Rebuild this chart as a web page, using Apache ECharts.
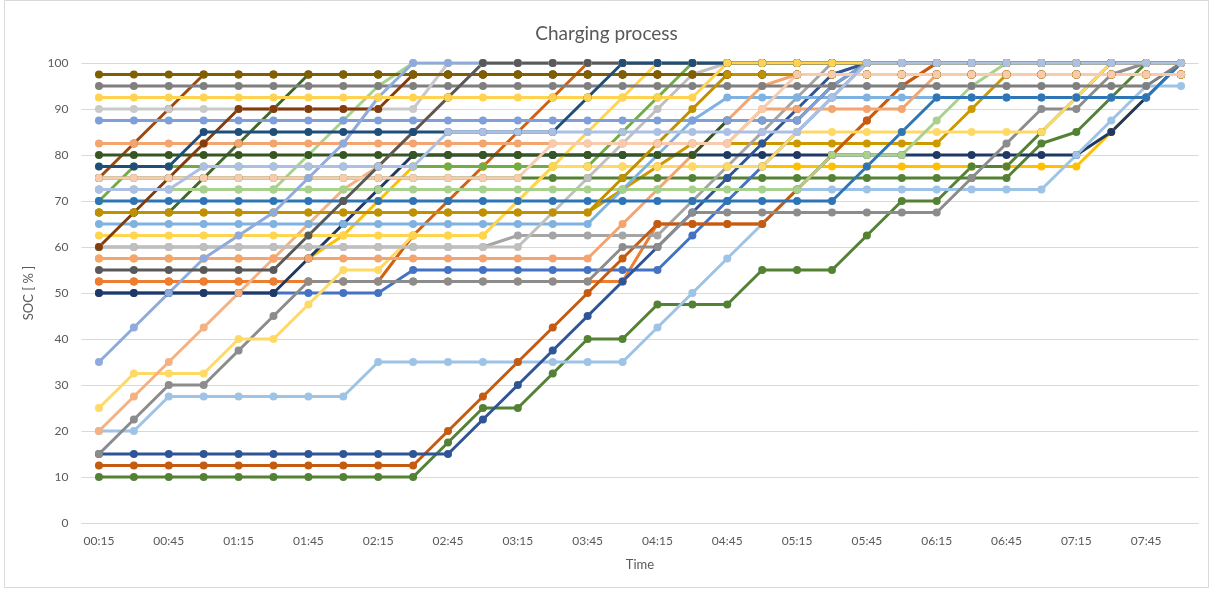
<!DOCTYPE html>
<html>
<head>
<meta charset="utf-8">
<script src="https://cdn.jsdelivr.net/npm/echarts/dist/echarts.min.js"></script>
<style>
html, body { margin: 0; padding: 0; background: #ffffff; }
#chart { width: 1213px; height: 590px; }
</style>
</head>
<body>
<div id="chart"></div>
<script>
// Quarter-hour time slots on the category axis
const timeLabels = [
  '00:15','00:30','00:45','01:00','01:15','01:30','01:45','02:00',
  '02:15','02:30','02:45','03:00','03:15','03:30','03:45','04:00',
  '04:15','04:30','04:45','05:00','05:15','05:30','05:45','06:00',
  '06:15','06:30','06:45','07:00','07:15','07:30','07:45','08:00'
];

// State of charge [%] of each vehicle per time slot
const soc01 = [52.5,52.5,52.5,52.5,52.5,52.5,52.5,52.5, 52.5,62.5,70,77.5,85,92.5,100,100, 100,100,100,100,100,100,100,100, 100,100,100,100,100,100,100,100];
const soc02 = [52.5,52.5,52.5,52.5,52.5,52.5,52.5,52.5, 52.5,52.5,52.5,52.5,52.5,52.5,52.5,52.5, 65,65,65,65,72.5,80,87.5,95, 100,100,100,100,100,100,100,100];
const soc03 = [75,82.5,90,97.5,97.5,97.5,97.5,97.5, 97.5,97.5,97.5,97.5,97.5,97.5,97.5,97.5, 97.5,97.5,97.5,97.5,97.5,97.5,97.5,97.5, 97.5,97.5,97.5,97.5,97.5,97.5,97.5,97.5];
const soc04 = [67.5,67.5,67.5,75,82.5,90,97.5,97.5, 97.5,97.5,97.5,97.5,97.5,97.5,97.5,97.5, 97.5,97.5,97.5,97.5,97.5,97.5,97.5,97.5, 97.5,97.5,97.5,97.5,97.5,97.5,97.5,97.5];
const soc05 = [57.5,57.5,57.5,57.5,57.5,57.5,57.5,62.5, 70,77.5,77.5,77.5,77.5,77.5,77.5,77.5, 77.5,77.5,77.5,77.5,77.5,77.5,77.5,77.5, 77.5,77.5,77.5,77.5,77.5,85,92.5,100];
const soc06 = [70,77.5,77.5,77.5,77.5,77.5,77.5,77.5, 77.5,77.5,77.5,77.5,77.5,77.5,77.5,85, 92.5,100,100,100,100,100,100,100, 100,100,100,100,100,100,100,100];
const soc07 = [72.5,72.5,72.5,72.5,72.5,72.5,80,87.5, 95,100,100,100,100,100,100,100, 100,100,100,100,100,100,100,100, 100,100,100,100,100,100,100,100];
const soc08 = [67.5,67.5,67.5,67.5,67.5,67.5,67.5,67.5, 67.5,67.5,67.5,67.5,67.5,67.5,67.5,72.5, 77.5,82.5,82.5,82.5,82.5,82.5,82.5,82.5, 82.5,90,97.5,97.5,97.5,97.5,97.5,97.5];
const soc09 = [75,75,75,75,75,75,75,75, 75,75,75,75,75,75,75,75, 75,75,75,75,75,75,75,75, 75,75,75,82.5,85,92.5,100,100];
const soc10 = [60,60,60,60,60,60,60,60, 60,60,60,60,62.5,62.5,62.5,62.5, 62.5,70,77.5,85,92.5,100,100,100, 100,100,100,100,100,100,100,100];
const soc11 = [50,50,50,50,50,50,50,50, 50,55,55,55,55,55,55,55, 55,62.5,70,77.5,85,92.5,100,100, 100,100,100,100,100,100,100,100];
const soc12 = [50,50,50,50,50,50,57.5,65, 72.5,80,80,80,80,80,80,80, 80,80,80,80,80,80,80,80, 80,80,80,80,80,85,92.5,100];
const soc13 = [10,10,10,10,10,10,10,10, 10,10,17.5,25,25,32.5,40,40, 47.5,47.5,47.5,55,55,55,62.5,70, 70,77.5,77.5,85,92.5,100,100,100];
const soc14 = [20,20,27.5,27.5,27.5,27.5,27.5,27.5, 35,35,35,35,35,35,35,35, 42.5,50,57.5,65,72.5,72.5,72.5,72.5, 72.5,72.5,72.5,72.5,80,87.5,95,95];
const soc15 = [12.5,12.5,12.5,12.5,12.5,12.5,12.5,12.5, 12.5,12.5,20,27.5,35,42.5,50,57.5, 65,65,65,65,72.5,80,87.5,95, 100,100,100,100,100,100,100,100];
const soc16 = [15,15,15,15,15,15,15,15, 15,15,15,22.5,30,37.5,45,52.5, 60,67.5,75,82.5,90,97.5,100,100, 100,100,100,100,100,100,100,100];
const soc17 = [15,22.5,30,30,37.5,45,52.5,52.5, 52.5,52.5,52.5,52.5,52.5,52.5,52.5,60, 60,67.5,67.5,67.5,67.5,67.5,67.5,67.5, 67.5,75,82.5,90,90,97.5,100,100];
const soc18 = [25,32.5,32.5,32.5,40,40,47.5,55, 55,62.5,62.5,62.5,70,77.5,77.5,77.5, 77.5,77.5,77.5,77.5,85,85,85,85, 85,85,85,85,92.5,100,100,100];
const soc19 = [20,27.5,35,42.5,50,57.5,65,72.5, 77.5,85,92.5,100,100,100,100,100, 100,100,100,100,100,100,100,100, 100,100,100,100,100,100,100,100];
const soc20 = [65,65,65,65,65,65,65,65, 65,65,65,65,65,65,65,72.5, 80,87.5,92.5,92.5,92.5,92.5,92.5,92.5, 92.5,92.5,92.5,92.5,92.5,92.5,92.5,100];
const soc21 = [62.5,62.5,62.5,62.5,62.5,62.5,62.5,62.5, 62.5,62.5,62.5,62.5,70,77.5,85,92.5, 100,100,100,100,100,100,100,100, 100,100,100,100,100,100,100,100];
const soc22 = [60,60,60,60,60,60,60,60, 60,60,60,60,60,67.5,75,82.5, 90,97.5,100,100,100,100,100,100, 100,100,100,100,100,100,100,100];
const soc23 = [57.5,57.5,57.5,57.5,57.5,57.5,57.5,57.5, 57.5,57.5,57.5,57.5,57.5,57.5,57.5,65, 72.5,80,87.5,95,97.5,97.5,97.5,97.5, 97.5,97.5,97.5,97.5,97.5,97.5,97.5,97.5];
const soc24 = [72.5,72.5,72.5,72.5,72.5,72.5,72.5,72.5, 72.5,72.5,72.5,72.5,72.5,72.5,72.5,72.5, 72.5,72.5,72.5,72.5,72.5,80,80,80, 87.5,95,100,100,100,100,100,100];
const soc25 = [70,70,70,70,70,70,70,70, 70,70,70,70,70,70,70,70, 70,70,70,70,70,70,77.5,85, 92.5,92.5,92.5,92.5,92.5,92.5,92.5,100];
const soc26 = [82.5,82.5,82.5,82.5,82.5,82.5,82.5,82.5, 82.5,82.5,82.5,82.5,82.5,82.5,82.5,82.5, 82.5,82.5,82.5,90,90,90,90,90, 97.5,97.5,97.5,97.5,97.5,97.5,97.5,97.5];
const soc27 = [80,80,80,80,80,80,80,80, 80,80,80,80,80,80,80,80, 80,80,87.5,87.5,87.5,95,100,100, 100,100,100,100,100,100,100,100];
const soc28 = [87.5,87.5,87.5,87.5,87.5,87.5,87.5,87.5, 87.5,87.5,87.5,87.5,87.5,87.5,87.5,87.5, 87.5,87.5,87.5,87.5,87.5,95,100,100, 100,100,100,100,100,100,100,100];
const soc29 = [95,95,95,95,95,95,95,95, 95,95,95,95,95,95,95,95, 95,95,95,95,95,95,95,95, 95,95,95,95,95,95,95,100];
const soc30 = [90,90,90,90,90,90,90,90, 90,90,100,100,100,100,100,100, 100,100,100,100,100,100,100,100, 100,100,100,100,100,100,100,100];
const soc31 = [60,67.5,75,82.5,90,90,90,90, 90,97.5,97.5,97.5,97.5,97.5,97.5,97.5, 97.5,97.5,97.5,97.5,97.5,97.5,97.5,97.5, 97.5,97.5,97.5,97.5,97.5,97.5,97.5,97.5];
const soc32 = [97.5,97.5,97.5,97.5,97.5,97.5,97.5,97.5, 97.5,97.5,97.5,97.5,97.5,97.5,97.5,97.5, 97.5,97.5,97.5,97.5,97.5,97.5,97.5,97.5, 97.5,97.5,97.5,97.5,97.5,97.5,97.5,97.5];
const soc33 = [67.5,67.5,67.5,67.5,67.5,67.5,67.5,67.5, 67.5,67.5,67.5,67.5,67.5,67.5,67.5,75, 82.5,90,97.5,97.5,97.5,97.5,97.5,97.5, 97.5,97.5,97.5,97.5,97.5,97.5,97.5,97.5];
const soc34 = [75,75,75,75,75,75,75,75, 75,75,75,75,75,82.5,82.5,82.5, 82.5,82.5,82.5,90,97.5,97.5,97.5,97.5, 97.5,97.5,97.5,97.5,97.5,97.5,97.5,97.5];
const soc35 = [35,42.5,50,57.5,62.5,67.5,75,82.5, 92.5,100,100,100,100,100,100,100, 100,100,100,100,100,100,100,100, 100,100,100,100,100,100,100,100];
const soc36 = [55,55,55,55,55,55,62.5,70, 77.5,85,92.5,100,100,100,100,100, 100,100,100,100,100,100,100,100, 100,100,100,100,100,100,100,100];
const soc37 = [77.5,77.5,77.5,85,85,85,85,85, 85,85,85,85,85,85,92.5,100, 100,100,100,100,100,100,100,100, 100,100,100,100,100,100,100,100];
const soc38 = [92.5,92.5,92.5,92.5,92.5,92.5,92.5,92.5, 92.5,92.5,92.5,92.5,92.5,92.5,92.5,92.5, 92.5,92.5,100,100,100,100,100,100, 100,100,100,100,100,100,100,100];
const soc39 = [72.5,72.5,72.5,77.5,77.5,77.5,77.5,77.5, 77.5,77.5,85,85,85,85,85,85, 85,85,85,85,85,92.5,100,100, 100,100,100,100,100,100,100,100];

// Drawing order (later series are painted on top) and line colours
const vehicles = [
  [soc01, '#D26012'], [soc02, '#ED7D31'], [soc03, '#9E480E'], [soc04, '#43682B'],
  [soc05, '#FFC000'], [soc06, '#70AD47'], [soc07, '#A9D18E'], [soc08, '#CC9A00'],
  [soc09, '#548235'], [soc10, '#A5A5A5'], [soc11, '#4472C4'], [soc12, '#203864'],
  [soc13, '#548235'], [soc14, '#9DC3E6'], [soc15, '#C55A11'], [soc16, '#2F5597'],
  [soc17, '#8C8C8C'], [soc18, '#FFD966'], [soc19, '#F4B183'], [soc20, '#7FB2E0'],
  [soc21, '#FFD54F'], [soc22, '#BFBFBF'], [soc23, '#F4A46F'], [soc24, '#A9D18E'],
  [soc25, '#2E75B6'], [soc26, '#F4A46F'], [soc27, '#375623'], [soc28, '#7F9FD8'],
  [soc29, '#7F7F7F'], [soc30, '#C9C9C9'], [soc31, '#843C0C'], [soc32, '#7F6000'],
  [soc33, '#BF9000'], [soc34, '#F8CBAD'], [soc35, '#8FAADC'], [soc36, '#595959'],
  [soc37, '#1F4E79'], [soc38, '#FFD34F'], [soc39, '#ACC0E4']
];

const textColor = '#595959';
const gridColor = '#D9D9D9';
const fontFamily = 'Lato, "Liberation Sans", sans-serif';

const chart = echarts.init(document.getElementById('chart'), null, { renderer: 'canvas' });

chart.setOption({
  animation: false,
  backgroundColor: '#ffffff',
  textStyle: { fontFamily: fontFamily },
  title: {
    text: 'Charging process',
    left: 'center',
    top: 19,
    textStyle: { fontSize: 19, fontWeight: 'normal', color: textColor, fontFamily: fontFamily }
  },
  graphic: [{
    type: 'rect',
    shape: { x: 4.5, y: 0.5, width: 1204, height: 587 },
    style: { fill: 'none', stroke: gridColor, lineWidth: 1 },
    silent: true
  }],
  grid: { left: 81.5, right: 14.5, top: 63, bottom: 67, containLabel: false },
  xAxis: {
    type: 'category',
    data: timeLabels,
    boundaryGap: true,
    name: 'Time',
    nameLocation: 'middle',
    nameGap: 35,
    nameTextStyle: { color: textColor, fontSize: 13, fontFamily: fontFamily },
    axisLine: { lineStyle: { color: gridColor, width: 1 } },
    axisTick: { show: false },
    axisLabel: { interval: 1, color: textColor, fontSize: 12, margin: 12, fontFamily: fontFamily },
    splitLine: { show: false }
  },
  yAxis: {
    type: 'value',
    min: 0,
    max: 100,
    interval: 10,
    name: 'SOC [ % ]',
    nameLocation: 'middle',
    nameRotate: 90,
    nameGap: 46,
    nameTextStyle: { color: textColor, fontSize: 13, fontFamily: fontFamily },
    axisLine: { show: false },
    axisTick: { show: false },
    axisLabel: { color: textColor, fontSize: 12, margin: 13, fontFamily: fontFamily },
    splitLine: { lineStyle: { color: gridColor, width: 1 } }
  },
  series: vehicles.map(function (v, k) {
    return {
      name: 'EV ' + (k + 1),
      type: 'line',
      data: v[0],
      symbol: 'circle',
      symbolSize: 8,
      showSymbol: true,
      showAllSymbol: true,
      lineStyle: { color: v[1], width: 3 },
      itemStyle: { color: v[1] },
      emphasis: { disabled: true },
      silent: true
    };
  })
});
</script>
</body>
</html>
